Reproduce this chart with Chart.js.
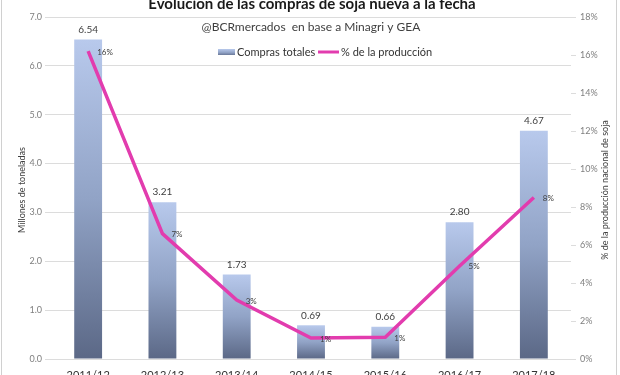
<!DOCTYPE html>
<html>
<head>
<meta charset="utf-8">
<script src="https://cdn.jsdelivr.net/npm/chart.js@4.4.1/dist/chart.umd.min.js"></script>
<style>
  body { margin: 0; overflow: hidden; background: #fff; }
  #wrap { width: 620px; height: 388px; }
</style>
</head>
<body>
<div id="wrap"><canvas id="chart" width="620" height="388"></canvas></div>
<script>
// Campaigns and values
const campaigns = ["2011/12", "2012/13", "2013/14", "2014/15", "2015/16", "2016/17", "2017/18"];
const compras = [6.54, 3.21, 1.73, 0.69, 0.66, 2.80, 4.67];            // millones de toneladas
const porcentaje = [16.2, 6.6, 3.1, 1.1, 1.15, 4.9, 8.5];             // % de la producción
const porcentajeLabels = ["16%", "7%", "3%", "1%", "1%", "5%", "8%"];

const FONT = "Lato, 'Open Sans', sans-serif";
const LINE_COLOR = '#e23cae';

function barGradient(ctx, yTop, yBot) {
    const g = ctx.createLinearGradient(0, yTop, 0, yBot);
    g.addColorStop(0, '#b8c9ec');
    g.addColorStop(0.5, '#91a3c6');
    g.addColorStop(1, '#5b6886');
    return g;
}

// Titles, axis titles, legend and value labels
const decorations = {
    id: 'decorations',
    afterDatasetsDraw(chart) {
        const ctx = chart.ctx;
        ctx.save();
        // bar values
        const barMeta = chart.getDatasetMeta(0);
        ctx.fillStyle = '#404040';
        ctx.font = "10px " + FONT;
        ctx.textAlign = 'center';
        ctx.textBaseline = 'middle';
        barMeta.data.forEach((bar, i) => {
            ctx.fillText(compras[i].toFixed(2), bar.x, bar.y - 10);
        });
        // line percentages
        const lineMeta = chart.getDatasetMeta(1);
        ctx.font = "8px " + FONT;
        ctx.textAlign = 'left';
        lineMeta.data.forEach((pt, i) => {
            ctx.fillText(porcentajeLabels[i], pt.x + 9, pt.y + 1);
        });
        ctx.restore();
    },
    afterDraw(chart) {
        const ctx = chart.ctx;
        ctx.save();
        ctx.textAlign = 'center';
        ctx.textBaseline = 'middle';
        ctx.fillStyle = '#1a1a1a';
        ctx.font = "bold 15px " + FONT;
        ctx.fillText("Evolución de las compras de soja nueva a la fecha", 312, 4);
        ctx.fillStyle = '#404040';
        ctx.font = "12px " + FONT;
        ctx.fillText("@BCRmercados  en base a Minagri y GEA", 311, 27);

        // legend
        ctx.fillStyle = barGradient(ctx, 49, 56);
        ctx.fillRect(218, 49, 17, 6);
        ctx.fillStyle = '#333';
        ctx.font = "11px " + FONT;
        ctx.textAlign = 'left';
        ctx.fillText("Compras totales", 237, 52);
        ctx.strokeStyle = LINE_COLOR;
        ctx.lineWidth = 3;
        ctx.beginPath();
        ctx.moveTo(318, 52);
        ctx.lineTo(339, 52);
        ctx.stroke();
        ctx.fillText("% de la producción", 341, 52);

        // axis titles
        ctx.font = "9px " + FONT;
        ctx.textAlign = 'center';
        ctx.fillStyle = '#404040';
        ctx.save();
        ctx.translate(22, 190);
        ctx.rotate(-Math.PI / 2);
        ctx.fillText("Millones de toneladas", 0, 0);
        ctx.restore();
        ctx.save();
        ctx.translate(605, 190);
        ctx.rotate(-Math.PI / 2);
        ctx.fillText("% de la producción nacional de soja", 0, 0);
        ctx.restore();

        // frame edges
        ctx.strokeStyle = '#d0d0d0';
        ctx.lineWidth = 1;
        ctx.beginPath();
        ctx.moveTo(1.5, 0); ctx.lineTo(1.5, 388);
        ctx.moveTo(616.5, 0); ctx.lineTo(616.5, 388);
        ctx.stroke();
        ctx.restore();
    }
};

new Chart(document.getElementById('chart').getContext('2d'), {
    type: 'bar',
    data: {
        labels: campaigns,
        datasets: [{
            type: 'bar',
            label: 'Compras totales',
            data: compras,
            yAxisID: 'y',
            order: 2,
            barPercentage: 0.75,
            categoryPercentage: 0.5,
            backgroundColor: function(c) {
                const chart = c.chart;
                if (!chart.chartArea) return '#91a3c6';
                const yTop = chart.scales.y.getPixelForValue(c.raw);
                const yBot = chart.scales.y.getPixelForValue(0);
                return barGradient(chart.ctx, yTop, yBot);
            }
        }, {
            type: 'line',
            label: '% de la producción',
            data: porcentaje,
            yAxisID: 'y1',
            order: 1,
            borderColor: LINE_COLOR,
            borderWidth: 3.5,
            pointRadius: 0,
            tension: 0
        }]
    },
    options: {
        responsive: false,
        animation: false,
        layout: { padding: { top: 17, left: 0, right: 0, bottom: 0 } },
        plugins: { legend: { display: false }, tooltip: { enabled: false }, title: { display: false } },
        scales: {
            x: {
                grid: { display: false },
                border: { display: false },
                ticks: { color: '#333', font: { family: FONT, size: 11 }, padding: 2, maxRotation: 0 },
                afterFit(scale) { scale.height = 29; }
            },
            y: {
                position: 'left',
                min: 0,
                max: 7,
                ticks: { stepSize: 1, color: '#7f7f7f', font: { family: FONT, size: 9 }, padding: 3,
                         callback: v => v.toFixed(1) },
                grid: { color: '#dcdcdc', tickLength: 6 },
                border: { display: false },
                afterFit(scale) { scale.width = 51; }
            },
            y1: {
                position: 'right',
                min: 0,
                max: 18,
                ticks: { stepSize: 2, color: '#7f7f7f', font: { family: FONT, size: 9 }, padding: 4,
                         callback: v => v + '%' },
                grid: { drawOnChartArea: false, color: '#dcdcdc', tickLength: 5 },
                border: { display: false },
                afterFit(scale) { scale.width = 49; }
            }
        }
    },
    plugins: [decorations]
});
</script>
</body>
</html>
